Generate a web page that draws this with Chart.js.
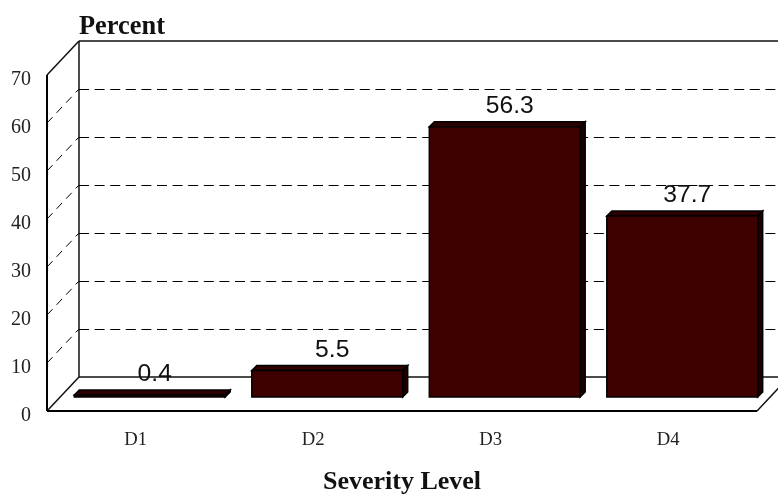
<!DOCTYPE html>
<html>
<head>
<meta charset="utf-8">
<style>
    html, body { margin: 0; padding: 0; background: #fff; }
    canvas { display: block; }
</style>
<script src="https://cdn.jsdelivr.net/npm/chart.js@4/dist/chart.umd.min.js"></script>
</head>
<body>
<canvas id="barchart" width="778" height="494"></canvas>
<script>
const categories = ['D1', 'D2', 'D3', 'D4'];
const percentValues = [0.4, 5.5, 56.3, 37.7];
const yAxisTitle = 'Percent';
const xAxisTitle = 'Severity Level';

// fake 3D: wall depth and how far the bars stand off the front edge
const wallDx = 32, wallDy = 34;
const barDx = 14, barDy = 14;
const capDepth = 5;
const serif = '"Liberation Serif", serif';

function line(ctx, x1, y1, x2, y2) {
    ctx.beginPath();
    ctx.moveTo(x1, y1);
    ctx.lineTo(x2, y2);
    ctx.stroke();
}

function poly(ctx, points) {
    ctx.beginPath();
    points.forEach((p, i) => i ? ctx.lineTo(p[0], p[1]) : ctx.moveTo(p[0], p[1]));
    ctx.closePath();
    ctx.fill();
    ctx.stroke();
}

const box3d = {
    id: 'box3d',
    beforeDatasetsDraw(chart) {
        const ctx = chart.ctx;
        const { left, right } = chart.chartArea;
        const y = chart.scales.y;
        const bottom = y.getPixelForValue(0);
        const top = y.getPixelForValue(70);
        const cw = chart.width;
        ctx.save();

        // dashed lines on back and side wall
        ctx.strokeStyle = '#000';
        ctx.lineWidth = 1;
        y.ticks.forEach(t => {
            if (t.value === 0 || t.value === 70) return;
            const py = y.getPixelForValue(t.value);
            ctx.setLineDash([10, 5.6]);
            line(ctx, left + wallDx, py - wallDy + 0.5, cw, py - wallDy + 0.5);
            ctx.setLineDash([8, 6]);
            line(ctx, left, py, left + wallDx, py - wallDy);
        });
        ctx.setLineDash([]);

        // back wall and floor
        ctx.lineWidth = 1.5;
        ctx.strokeStyle = '#111';
        line(ctx, left + wallDx, top - wallDy, cw, top - wallDy);
        line(ctx, left + wallDx, top - wallDy, left + wallDx, bottom - wallDy);
        line(ctx, left + wallDx, bottom - wallDy, cw, bottom - wallDy);
        line(ctx, left, top, left + wallDx, top - wallDy);
        line(ctx, left, bottom, left + wallDx, bottom - wallDy);
        line(ctx, right, bottom, right + wallDx, bottom - wallDy);

        // front edges
        ctx.lineWidth = 2;
        ctx.strokeStyle = '#000';
        line(ctx, left, top, left, bottom);
        line(ctx, left, bottom, right, bottom);

        // Percent heading
        ctx.fillStyle = '#111';
        ctx.font = 'bold 26.4px ' + serif;
        ctx.textAlign = 'left';
        ctx.textBaseline = 'alphabetic';
        ctx.fillText(yAxisTitle, left + wallDx, 34);
        ctx.restore();
    },
    beforeDatasetDraw(chart, args) {
        const ctx = chart.ctx;
        const bars = chart.getDatasetMeta(args.index).data;
        ctx.save();
        ctx.translate(barDx, -barDy);
        ctx.save();
        ctx.lineWidth = 1.5;
        ctx.strokeStyle = '#000';
        bars.forEach(b => {
            const l = b.x - b.width / 2, r = b.x + b.width / 2;
            ctx.fillStyle = '#2c0000';
            poly(ctx, [[l, b.y], [l + capDepth, b.y - capDepth], [r + capDepth, b.y - capDepth], [r, b.y]]);
            ctx.fillStyle = '#1c0000';
            poly(ctx, [[r, b.y], [r + capDepth, b.y - capDepth], [r + capDepth, b.base - capDepth], [r, b.base]]);
        });
        ctx.restore();
    },
    afterDatasetDraw(chart, args) {
        const ctx = chart.ctx;
        const bars = chart.getDatasetMeta(args.index).data;
        // outline of the front faces, still inside the bar offset
        ctx.lineWidth = 1.5;
        ctx.strokeStyle = '#000';
        bars.forEach(b => {
            ctx.strokeRect(b.x - b.width / 2, b.y, b.width, b.base - b.y);
        });
        ctx.restore();

        ctx.save();
        ctx.fillStyle = '#111';
        ctx.font = '24.7px "Liberation Sans", sans-serif';
        ctx.textAlign = 'center';
        ctx.textBaseline = 'alphabetic';
        bars.forEach((b, i) => {
            ctx.fillText(percentValues[i].toFixed(1), b.x + barDx + capDepth, b.y - barDy - 14);
        });
        ctx.restore();
    }
};

new Chart(document.getElementById('barchart').getContext('2d'), {
    type: 'bar',
    data: {
        labels: categories,
        datasets: [{
            data: percentValues,
            backgroundColor: '#3f0000',
            borderWidth: 0,
            categoryPercentage: 1,
            barPercentage: 0.85,
            clip: false
        }]
    },
    options: {
        responsive: false,
        animation: false,
        layout: { padding: { top: 75, right: 21, left: 0, bottom: 0 } },
        plugins: {
            legend: { display: false },
            tooltip: { enabled: false }
        },
        scales: {
            x: {
                afterFit(scale) { scale.height = 83; },
                grid: { display: false },
                border: { display: false },
                ticks: {
                    color: '#222',
                    padding: 10,
                    font: { family: serif, size: 18.67 },
                    maxRotation: 0
                },
                title: {
                    display: true,
                    text: xAxisTitle,
                    color: '#111',
                    font: { family: serif, size: 26, weight: 'bold' },
                    padding: { top: 16, bottom: -4 }
                }
            },
            y: {
                min: 0,
                max: 70,
                afterFit(scale) { scale.width = 47; },
                grid: { display: false },
                border: { display: false },
                ticks: {
                    stepSize: 10,
                    color: '#222',
                    padding: 8,
                    labelOffset: 5,
                    font: { family: serif, size: 20 }
                }
            }
        }
    },
    plugins: [box3d]
});
</script>
</body>
</html>
